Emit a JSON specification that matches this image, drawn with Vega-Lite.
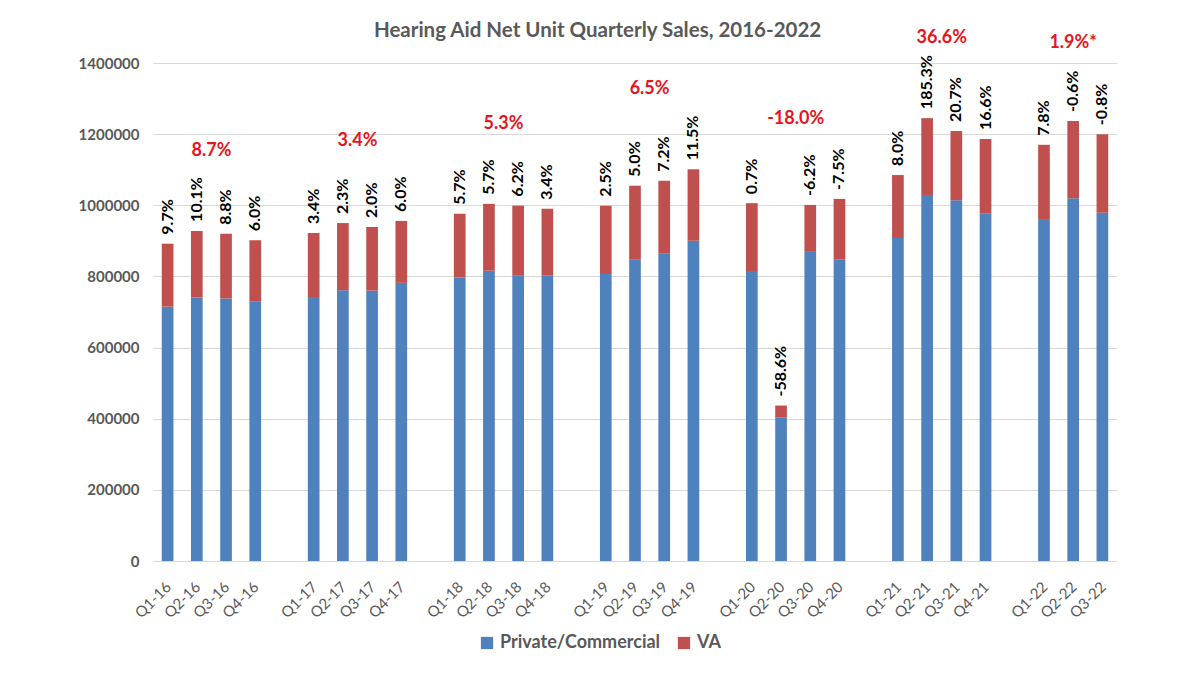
{
  "$schema": "https://vega.github.io/schema/vega-lite/v6.json",
  "width": 964,
  "height": 498,
  "autosize": {"type": "none"},
  "padding": {"left": 153, "top": 63, "right": 83, "bottom": 114},
  "background": "white",
  "title": {
    "text": "Hearing Aid Net Unit Quarterly Sales, 2016-2022",
    "font": "Lato",
    "fontSize": 20.5,
    "fontWeight": "bold",
    "color": "#595959",
    "anchor": "middle",
    "frame": "bounds",
    "offset": -12
  },
  "data": {
    "values": [
      {"q": "Q1-16", "year": "2016", "Private/Commercial": 715000, "VA": 177000, "yoy": "9.7%"},
      {"q": "Q2-16", "year": "2016", "Private/Commercial": 741000, "VA": 187000, "yoy": "10.1%", "annual": "8.7%"},
      {"q": "Q3-16", "year": "2016", "Private/Commercial": 738000, "VA": 182000, "yoy": "8.8%"},
      {"q": "Q4-16", "year": "2016", "Private/Commercial": 729000, "VA": 173000, "yoy": "6.0%"},
      {"q": "Q1-17", "year": "2017", "Private/Commercial": 742000, "VA": 180000, "yoy": "3.4%"},
      {"q": "Q2-17", "year": "2017", "Private/Commercial": 761000, "VA": 189000, "yoy": "2.3%", "annual": "3.4%"},
      {"q": "Q3-17", "year": "2017", "Private/Commercial": 760000, "VA": 179000, "yoy": "2.0%"},
      {"q": "Q4-17", "year": "2017", "Private/Commercial": 782000, "VA": 174000, "yoy": "6.0%"},
      {"q": "Q1-18", "year": "2018", "Private/Commercial": 797000, "VA": 179000, "yoy": "5.7%"},
      {"q": "Q2-18", "year": "2018", "Private/Commercial": 816000, "VA": 188000, "yoy": "5.7%", "annual": "5.3%"},
      {"q": "Q3-18", "year": "2018", "Private/Commercial": 803000, "VA": 196000, "yoy": "6.2%"},
      {"q": "Q4-18", "year": "2018", "Private/Commercial": 803000, "VA": 187000, "yoy": "3.4%"},
      {"q": "Q1-19", "year": "2019", "Private/Commercial": 807000, "VA": 192000, "yoy": "2.5%"},
      {"q": "Q2-19", "year": "2019", "Private/Commercial": 848000, "VA": 207000, "yoy": "5.0%", "annual": "6.5%"},
      {"q": "Q3-19", "year": "2019", "Private/Commercial": 864000, "VA": 205000, "yoy": "7.2%"},
      {"q": "Q4-19", "year": "2019", "Private/Commercial": 900000, "VA": 201000, "yoy": "11.5%"},
      {"q": "Q1-20", "year": "2020", "Private/Commercial": 815000, "VA": 191000, "yoy": "0.7%"},
      {"q": "Q2-20", "year": "2020", "Private/Commercial": 404000, "VA": 33000, "yoy": "-58.6%", "annual": "-18.0%"},
      {"q": "Q3-20", "year": "2020", "Private/Commercial": 869000, "VA": 132000, "yoy": "-6.2%"},
      {"q": "Q4-20", "year": "2020", "Private/Commercial": 847000, "VA": 171000, "yoy": "-7.5%"},
      {"q": "Q1-21", "year": "2021", "Private/Commercial": 908000, "VA": 177000, "yoy": "8.0%"},
      {"q": "Q2-21", "year": "2021", "Private/Commercial": 1029000, "VA": 216000, "yoy": "185.3%", "annual": "36.6%"},
      {"q": "Q3-21", "year": "2021", "Private/Commercial": 1014000, "VA": 195000, "yoy": "20.7%"},
      {"q": "Q4-21", "year": "2021", "Private/Commercial": 976000, "VA": 210000, "yoy": "16.6%"},
      {"q": "Q1-22", "year": "2022", "Private/Commercial": 959000, "VA": 211000, "yoy": "7.8%"},
      {"q": "Q2-22", "year": "2022", "Private/Commercial": 1020000, "VA": 217000, "yoy": "-0.6%", "annual": "1.9%*"},
      {"q": "Q3-22", "year": "2022", "Private/Commercial": 979000, "VA": 221000, "yoy": "-0.8%"}
    ]
  },
  "transform": [
    {"fold": ["Private/Commercial", "VA"], "as": ["segment", "units"]},
    {"joinaggregate": [{"op": "sum", "field": "units", "as": "total"}], "groupby": ["q"]},
    {"joinaggregate": [{"op": "max", "field": "total", "as": "ymax"}], "groupby": ["year"]}
  ],
  "encoding": {
    "x": {
      "field": "q",
      "type": "nominal",
      "sort": null,
      "title": null,
      "scale": {
        "domain": ["Q1-16", "Q2-16", "Q3-16", "Q4-16", "gap1",
                   "Q1-17", "Q2-17", "Q3-17", "Q4-17", "gap2",
                   "Q1-18", "Q2-18", "Q3-18", "Q4-18", "gap3",
                   "Q1-19", "Q2-19", "Q3-19", "Q4-19", "gap4",
                   "Q1-20", "Q2-20", "Q3-20", "Q4-20", "gap5",
                   "Q1-21", "Q2-21", "Q3-21", "Q4-21", "gap6",
                   "Q1-22", "Q2-22", "Q3-22"],
        "paddingInner": 0.6,
        "paddingOuter": 0.3
      },
      "axis": {
        "labelAngle": -45,
        "labelExpr": "indexof(datum.label, 'gap') == 0 ? '' : datum.label",
        "labelFont": "Lato",
        "labelFontSize": 15,
        "labelColor": "#595959",
        "labelPadding": 18,
        "labelOffset": -4,
        "ticks": false,
        "domainColor": "#D9D9D9",
        "grid": false
      }
    }
  },
  "layer": [
    {
      "mark": {"type": "bar"},
      "encoding": {
        "y": {
          "field": "units",
          "type": "quantitative",
          "stack": "zero",
          "title": null,
          "scale": {"domain": [0, 1400000], "nice": false},
          "axis": {
            "values": [0, 200000, 400000, 600000, 800000, 1000000, 1200000, 1400000],
            "format": "d",
            "labelFont": "Lato",
            "labelFontSize": 15,
            "labelFontWeight": "bold",
            "labelColor": "#595959",
            "labelPadding": 14,
            "ticks": false,
            "domain": false,
            "gridColor": "#D9D9D9"
          }
        },
        "color": {
          "field": "segment",
          "type": "nominal",
          "scale": {"domain": ["Private/Commercial", "VA"], "range": ["#4F81BD", "#C0504D"]},
          "legend": {
            "title": null,
            "orient": "none",
            "direction": "horizontal",
            "legendX": 325,
            "legendY": 571,
            "symbolType": "square",
            "symbolSize": 150,
            "symbolStrokeWidth": 0,
            "labelFont": "Lato",
            "labelFontSize": 18,
            "labelFontWeight": "bold",
            "labelColor": "#595959",
            "labelLimit": 400,
            "columnPadding": 14
          }
        },
        "order": {"field": "segment", "sort": "ascending"}
      }
    },
    {
      "transform": [{"filter": "datum.segment == 'VA'"}],
      "mark": {
        "type": "text",
        "angle": 270,
        "align": "left",
        "baseline": "middle",
        "dx": 9,
        "font": "Lato",
        "fontSize": 16,
        "fontWeight": "bold",
        "color": "black"
      },
      "encoding": {
        "y": {"field": "total", "type": "quantitative"},
        "text": {"field": "yoy"}
      }
    },
    {
      "transform": [{"filter": "datum.segment == 'VA' && isValid(datum.annual) && datum.year != '2022'"}],
      "mark": {
        "type": "text",
        "align": "center",
        "baseline": "middle",
        "dy": -80,
        "font": "Lato",
        "fontSize": 18,
        "fontWeight": "bold",
        "color": "#E8141C"
      },
      "encoding": {
        "x": {"field": "q", "type": "nominal", "sort": null, "bandPosition": 1.75},
        "y": {"field": "ymax", "type": "quantitative"},
        "text": {"field": "annual"}
      }
    },
    {
      "transform": [{"filter": "datum.segment == 'VA' && isValid(datum.annual) && datum.year == '2022'"}],
      "mark": {
        "type": "text",
        "align": "center",
        "baseline": "middle",
        "dy": -78,
        "font": "Lato",
        "fontSize": 18,
        "fontWeight": "bold",
        "color": "#E8141C"
      },
      "encoding": {
        "x": {"field": "q", "type": "nominal", "sort": null, "bandPosition": 0.5},
        "y": {"field": "ymax", "type": "quantitative"},
        "text": {"field": "annual"}
      }
    }
  ],
  "config": {
    "view": {"stroke": null}
  }
}
